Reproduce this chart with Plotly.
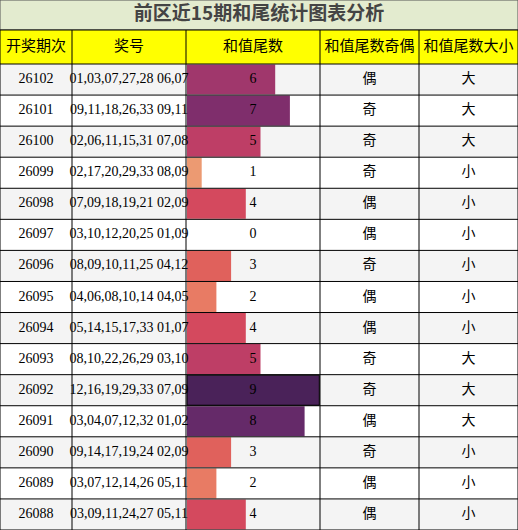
import plotly.graph_objects as go

# data
periods = ['26102', '26101', '26100', '26099', '26098', '26097', '26096', '26095',
           '26094', '26093', '26092', '26091', '26090', '26089', '26088']
numbers = ['01,03,07,27,28 06,07', '09,11,18,26,33 09,11', '02,06,11,15,31 07,08',
           '02,17,20,29,33 08,09', '07,09,18,19,21 02,09', '03,10,12,20,25 01,09',
           '08,09,10,11,25 04,12', '04,06,08,10,14 04,05', '05,14,15,17,33 01,07',
           '08,10,22,26,29 03,10', '12,16,19,29,33 07,09', '03,04,07,12,32 01,02',
           '09,14,17,19,24 02,09', '03,07,12,14,26 05,11', '03,09,11,24,27 05,11']
tails = [6, 7, 5, 1, 4, 0, 3, 2, 4, 5, 9, 8, 3, 2, 4]
odd_even = ['偶', '奇', '奇', '奇', '偶', '偶', '奇', '偶', '偶', '奇', '奇', '偶', '奇', '偶', '偶']
big_small = ['大', '大', '大', '小', '小', '小', '小', '小', '小', '大', '大', '大', '小', '小', '小']
headers = ['开奖期次', '奖号', '和值尾数', '和值尾数奇偶', '和值尾数大小']
title = '前区近15期和尾统计图表分析'

colors = {0: '#ffffff', 1: '#ec9a72', 2: '#e87b64', 3: '#e0615c', 4: '#d4495e',
          5: '#be3e66', 6: '#a0376c', 7: '#7f2e6c', 8: '#652a69', 9: '#4a2259'}

# layout in pixels
W, H = 518, 530
cols = [0, 72, 186, 320, 419, 518]
top_t, top_h, top_r = 0, 30, 64
rh = (H - top_r) / len(periods)
unit = 14.7
cx = [(cols[i] + cols[i + 1]) / 2 for i in range(5)]
yc = [top_r + (i + 0.5) * rh for i in range(len(periods))]

fig = go.Figure()
shapes = []
shapes.append(dict(type='rect', x0=0, x1=W, y0=top_t, y1=top_h, fillcolor='#e3ebcf',
                   line=dict(color='#555', width=1), layer='below'))
shapes.append(dict(type='rect', x0=0, x1=W, y0=top_h, y1=top_r, fillcolor='#ffff00',
                   line=dict(width=0), layer='below'))
for i in range(len(periods)):
    shapes.append(dict(type='rect', x0=0, x1=W, y0=top_r + i * rh, y1=top_r + (i + 1) * rh,
                       fillcolor='#f4f4f4' if i % 2 == 0 else '#ffffff', line=dict(width=0),
                       layer='below'))

fig.add_trace(go.Bar(
    y=yc, x=[t * unit for t in tails], base=cols[2] + 1, orientation='h', width=rh - 1,
    marker=dict(color=[colors[t] for t in tails],
                line=dict(color=['#000' if t == 9 else 'rgba(0,0,0,0)' for t in tails], width=1)),
    hoverinfo='skip', showlegend=False))

# grid lines over bars
lines = []
for x in cols:
    lines.append(dict(type='line', x0=x, x1=x, y0=top_h, y1=H, line=dict(color='#000', width=1)))
for i in range(len(periods) + 1):
    y = top_r + i * rh
    lines.append(dict(type='line', x0=0, x1=W, y0=y, y1=y, line=dict(color='#000', width=1)))
lines.append(dict(type='line', x0=0, x1=W, y0=top_h, y1=top_h, line=dict(color='#000', width=1)))

serif = 'Liberation Serif'
cjk = 'Noto Sans CJK SC'
fig.add_trace(go.Scatter(x=[cx[0]] * 15, y=yc, mode='text', text=periods,
                         textfont=dict(family=serif, size=14, color='#000'), hoverinfo='skip'))
fig.add_trace(go.Scatter(x=[cx[1]] * 15, y=yc, mode='text', text=numbers,
                         textfont=dict(family=serif, size=14, color='#000'), hoverinfo='skip'))
fig.add_trace(go.Scatter(x=[cx[2]] * 15, y=yc, mode='text', text=[str(t) for t in tails],
                         textfont=dict(family=serif, size=14, color='#000'), hoverinfo='skip'))
fig.add_trace(go.Scatter(x=[cx[3]] * 15, y=yc, mode='text', text=odd_even,
                         textfont=dict(family=cjk, size=14, color='#000'), hoverinfo='skip'))
fig.add_trace(go.Scatter(x=[cx[4]] * 15, y=yc, mode='text', text=big_small,
                         textfont=dict(family=cjk, size=14, color='#000'), hoverinfo='skip'))
fig.add_trace(go.Scatter(x=cx, y=[(top_h + top_r) / 2] * 5, mode='text', text=headers,
                         textfont=dict(family=cjk, size=15, color='#000'), hoverinfo='skip'))
fig.add_trace(go.Scatter(x=[W / 2], y=[15], mode='text', text=['<b>' + title + '</b>'],
                         textfont=dict(family=cjk, size=19, color='#444'), hoverinfo='skip'))

fig.update_layout(
    width=W, height=H, margin=dict(l=0, r=0, t=0, b=0),
    plot_bgcolor='white', paper_bgcolor='white', showlegend=False,
    shapes=shapes + lines,
    xaxis=dict(range=[0, W], visible=False, fixedrange=True),
    yaxis=dict(range=[H, 0], visible=False, fixedrange=True),
)

fig.write_html("out.html", config={'displayModeBar': False},
               post_script="document.body.style.margin='0';")
